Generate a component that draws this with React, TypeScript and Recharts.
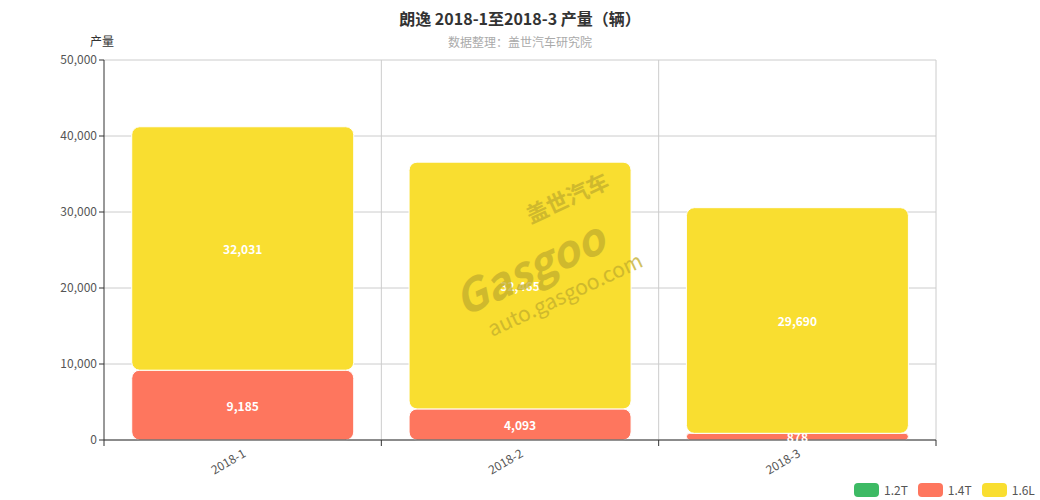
import React from 'react';
import { BarChart, Bar, XAxis, YAxis, CartesianGrid, LabelList } from 'recharts';

const months = ['2018-1', '2018-2', '2018-3'];
const series12T = [0, 0, 0];
const series14T = [9185, 4093, 878];
const series16L = [32031, 32465, 29690];
const yTicks = [0, 10000, 20000, 30000, 40000, 50000];

const seriesList = [
  { key: 't12', name: '1.2T', color: '#3dba64', values: series12T },
  { key: 't14', name: '1.4T', color: '#fe765e', values: series14T },
  { key: 'l16', name: '1.6L', color: '#f9de30', values: series16L },
];

const data = months.map((m, i) => ({
  month: m,
  t12: series12T[i],
  t14: series14T[i],
  l16: series16L[i],
}));

const W = 1040;
const H = 500;
const M = { top: 60, right: 104, bottom: 20, left: 44 };
const plotLeft = 104;
const plotWidth = W - plotLeft - M.right;
const band = plotWidth / months.length;
const font = '"Noto Sans CJK SC", "Noto Sans", sans-serif';

const fmt = (v: number) => v.toLocaleString('en-US');

const XTick = (props: any) => {
  const { x, y, payload, index } = props;
  return (
    <g>
      <line x1={x - band / 2} y1={y - 8} x2={x - band / 2} y2={y - 2} stroke="#333" />
      {index === months.length - 1 && (
        <line x1={x + band / 2} y1={y - 8} x2={x + band / 2} y2={y - 2} stroke="#333" />
      )}
      <text
        x={x + 4}
        y={y + 8}
        textAnchor="end"
        fontSize={12}
        fill="#555"
        fontFamily={font}
        transform={`rotate(-30, ${x + 4}, ${y + 8})`}
      >
        {payload.value}
      </text>
    </g>
  );
};

const renderLabel = (props: any) => {
  const { x, y, width, height, value } = props;
  if (!value) return null;
  return (
    <text
      x={x + width / 2}
      y={y + height / 2}
      textAnchor="middle"
      dominantBaseline="central"
      fontSize={12}
      fontWeight="bold"
      fill="#fff"
      fontFamily={font}
    >
      {fmt(value)}
    </text>
  );
};

export default function App() {
  return (
    <div style={{ position: 'absolute', left: 0, top: 0, width: W, height: H, background: '#fff', fontFamily: font }}>
      <div style={{ position: 'absolute', top: 6, width: W, textAlign: 'center', fontSize: 16, fontWeight: 'bold', color: '#333' }}>
        朗逸 2018-1至2018-3 产量（辆）
      </div>
      <div style={{ position: 'absolute', top: 33, width: W, textAlign: 'center', fontSize: 12, color: '#aaa' }}>
        数据整理：盖世汽车研究院
      </div>
      <div style={{ position: 'absolute', top: 32, left: 90, fontSize: 12, color: '#333' }}>产量</div>
      <BarChart width={W} height={H} data={data} margin={M} barCategoryGap="10%">
        <CartesianGrid
          stroke="#ccc"
          verticalCoordinatesGenerator={({ offset }: any) =>
            months.map((_, i) => offset.left + (offset.width * (i + 1)) / months.length)
          }
        />
        <XAxis
          dataKey="month"
          tickLine={false}
          axisLine={{ stroke: '#333' }}
          tick={<XTick />}
          interval={0}
          height={40}
        />
        <YAxis
          width={60}
          domain={[0, 50000]}
          ticks={yTicks}
          tickFormatter={fmt}
          tick={{ fontSize: 12, fill: '#555', fontFamily: font }}
          axisLine={{ stroke: '#333' }}
          tickLine={{ stroke: '#333' }}
          tickSize={5}
        />
        {seriesList.map((s) => (
          <Bar
            key={s.key}
            dataKey={s.key}
            name={s.name}
            stackId="a"
            fill={s.color}
            stroke="#fff"
            strokeWidth={1}
            radius={[8, 8, 8, 8]}
            isAnimationActive={false}
          >
            <LabelList dataKey={s.key} content={renderLabel} />
          </Bar>
        ))}
      </BarChart>
      <svg style={{ position: 'absolute', left: 0, top: 0, pointerEvents: 'none' }} width={W} height={H}>
        <g transform="rotate(-25, 520, 260)" opacity={0.75}>
          <text x={545} y={232} fontSize={22} fontWeight="bold" fill="#c2ad2c" fontFamily={font}>盖世汽车</text>
          <text x={445} y={288} fontSize={44} fontWeight="bold" fill="#c2ad2c" fontFamily={font} fontStyle="italic">Gasgoo</text>
          <text x={462} y={318} fontSize={21} fill="#c2ad2c" fontFamily={font}>auto.gasgoo.com</text>
        </g>
      </svg>
      <div style={{ position: 'absolute', top: 481, left: 854, display: 'flex', fontSize: 12, color: '#555' }}>
        {seriesList.map((s) => (
          <div key={s.key} style={{ display: 'flex', alignItems: 'center', marginRight: 10 }}>
            <span style={{ display: 'inline-block', width: 25, height: 14, borderRadius: 4, background: s.color, marginRight: 5 }} />
            <span>{s.name}</span>
          </div>
        ))}
      </div>
    </div>
  );
}
